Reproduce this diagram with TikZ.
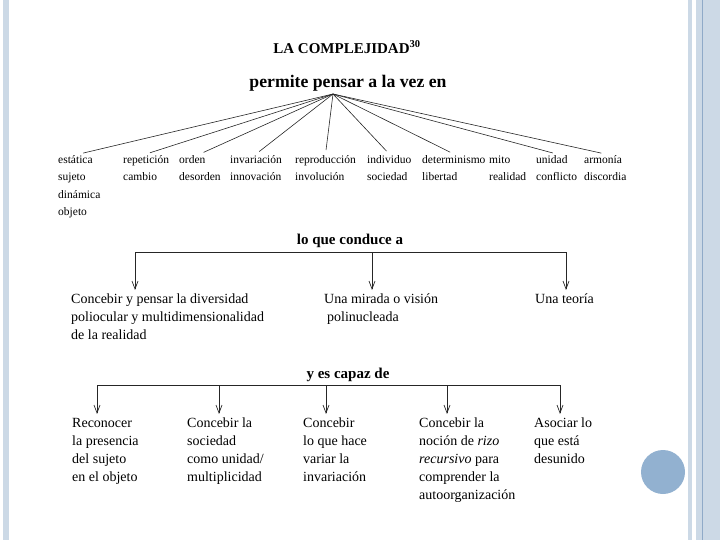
\documentclass[tikz,border=0pt]{standalone}
\usepackage{fontspec}
\setmainfont{Liberation Serif}
\usetikzlibrary{arrows.meta, positioning}
\definecolor{stripe}{RGB}{204,217,230}
\definecolor{stripeline}{RGB}{143,170,200}
\definecolor{dot}{RGB}{146,177,208}

\begin{document}
\begin{tikzpicture}[x=1pt, y=-1pt,
    pair/.style={align=left, anchor=north west, inner sep=1pt, font=\fontsize{11.5}{17.5}\selectfont},
    item/.style={align=left, anchor=north west, inner sep=1pt, font=\fontsize{14}{18}\selectfont},
    head/.style={font=\bfseries\fontsize{15}{17}\selectfont, inner sep=1pt},
    spoke/.style={line width=0.6pt, black!85},
    arr/.style={-{Straight Barb[length=8pt, width=6pt]}, line width=0.7pt, black!85}]
  \useasboundingbox (0,0) rectangle (720,540);
  % slide frame
  \fill[stripe] (3,0) rectangle (9,540);
  \fill[stripe] (688,0) rectangle (692,540);
  \fill[stripe] (696,0) rectangle (720,540);
  \draw[stripeline, line width=0.8pt] (702,0) -- (702,540);
  \fill[dot] (663,472) circle (22);

  % headings
  \node[font=\bfseries\fontsize{15}{17}\selectfont] (title) at (347,47) {LA COMPLEJIDAD\textsuperscript{30}};
  \node[font=\bfseries\fontsize{17.7}{20}\selectfont] (permite) at (348,83) {permite pensar a la vez en};
  \coordinate (apex) at (333,94);

  % pairs
  \node[pair] (est) at (57,154) {estática\\sujeto\\dinámica\\objeto};
  \node[pair] (rep) at (122,154) {repetición\\cambio};
  \node[pair] (ord) at (178,154) {orden\\desorden};
  \node[pair] (inv) at (229,154) {invariación\\innovación};
  \node[pair] (rpr) at (294,154) {reproducción\\involución};
  \node[pair] (ind) at (366,154) {individuo\\sociedad};
  \node[pair] (det) at (421,154) {determinismo\\libertad};
  \node[pair] (mit) at (488,154) {\vphantom{á}mito\\realidad};
  \node[pair] (uni) at (535,154) {unidad\\conflicto};
  \node[pair] (arm) at (583,154) {armonía\\discordia};
  \foreach \n in {est,rep,ord,inv,rpr,ind,det,uni,arm}
    \draw[spoke, shorten >=4pt] (apex) -- (\n.north);

  % lo que conduce a
  \node[head] (conduce) at (350,241) {lo que conduce a};
  \coordinate (c1) at (135,252);
  \coordinate (c2) at (372,252);
  \coordinate (c3) at (566,252);
  \draw[spoke] (c1) -- (c3);
  \node[item] (div) at (70,293) {Concebir y pensar la diversidad\\poliocular y multidimensionalidad\\de la realidad};
  \node[item] (mir) at (323,293) {Una mirada o visión\\\hspace{3pt}polinucleada};
  \node[item] (teo) at (534,293) {Una teoría};
  \foreach \c/\n in {c1/div, c2/mir, c3/teo}
    \draw[arr, shorten >=3pt] (\c) -- (\c |- \n.north);

  % y es capaz de
  \node[head] (capaz) at (348,375) {y es capaz de};
  \coordinate (d1) at (97,385);
  \coordinate (d2) at (219,385);
  \coordinate (d3) at (326,385);
  \coordinate (d4) at (447,385);
  \coordinate (d5) at (560,385);
  \draw[spoke] (d1) -- (d5);
  \node[item] (rec) at (71,417) {Reconocer\\la presencia\\del sujeto\\en el objeto};
  \node[item] (soc) at (186,417) {Concebir la\\sociedad\\como unidad/\\multiplicidad};
  \node[item] (var) at (302,417) {Concebir\\lo que hace\\variar la\\invariación};
  \node[item] (riz) at (418,417) {Concebir la\\noción de \textit{rizo}\\\textit{recursivo} para\\comprender la\\autoorganización};
  \node[item] (aso) at (533,417) {Asociar lo\\que está\\desunido};
  \foreach \c/\n in {d1/rec, d2/soc, d3/var, d4/riz, d5/aso}
    \draw[arr, shorten >=3pt] (\c) -- (\c |- \n.north);
\end{tikzpicture}
\end{document}
